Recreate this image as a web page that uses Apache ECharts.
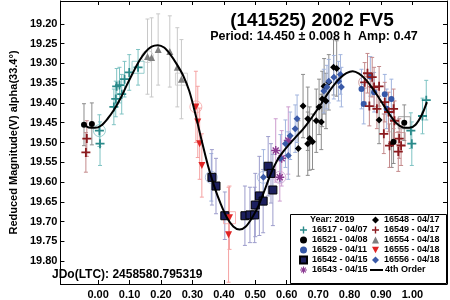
<!DOCTYPE html>
<html>
<head>
<meta charset="utf-8">
<script src="https://cdn.jsdelivr.net/npm/echarts@6/dist/echarts.min.js"></script>
<style>
  html, body { margin: 0; padding: 0; background: #fff; }
  #chart { width: 450px; height: 300px; }
</style>
</head>
<body>
<div id="chart"></div>
<script>
// tick positions
const phaseTicks = [0, 0.1, 0.2, 0.3, 0.4, 0.5, 0.6, 0.7, 0.8, 0.9, 1.0]
const magTicks = [19.20, 19.25, 19.30, 19.35, 19.40, 19.45, 19.50, 19.55, 19.60, 19.65, 19.70, 19.75, 19.80]

// sessions: [phase, reduced mag, error]
const s16517 = [[0.004, 19.470, 0.040], [0.006, 19.503, 0.055], [0.050, 19.410, 0.045], [0.056, 19.390, 0.045],
  [0.059, 19.358, 0.045], [0.068, 19.355, 0.045], [0.075, 19.378, 0.050], [0.084, 19.340, 0.045],
  [0.099, 19.323, 0.045], [0.995, 19.470, 0.045], [0.998, 19.503, 0.055], [1.032, 19.433, 0.045],
  [1.044, 19.393, 0.050], [0.127, 19.310, 0.045]]
const s16521 = [[-0.045, 19.455, 0.053], [-0.020, 19.453, 0.053], [0.940, 19.498, 0.055], [0.974, 19.450, 0.045]]
const s16529 = [[0.360, 19.588, 0.060], [0.838, 19.365, 0.050], [0.845, 19.403, 0.050], [0.866, 19.333, 0.050],
  [0.878, 19.373, 0.050], [0.912, 19.378, 0.050], [0.918, 19.415, 0.050], [0.933, 19.390, 0.050]]
const s16542 = [[0.362, 19.588, 0.070], [0.375, 19.610, 0.070], [0.403, 19.685, 0.060], [0.467, 19.685, 0.075],
  [0.483, 19.683, 0.070], [0.498, 19.683, 0.070], [0.500, 19.658, 0.080], [0.513, 19.635, 0.100],
  [0.525, 19.648, 0.080], [0.541, 19.560, 0.075], [0.550, 19.578, 0.075], [0.556, 19.620, 0.090]]
const s16543 = [[0.578, 19.588, 0.060], [0.565, 19.520, 0.080], [0.584, 19.540, 0.070], [0.605, 19.495, 0.085]]
const s16548 = [[0.637, 19.515, 0.070], [0.652, 19.408, 0.080], [0.667, 19.440, 0.080], [0.667, 19.503, 0.080],
  [0.673, 19.490, 0.080], [0.682, 19.498, 0.070], [0.694, 19.445, 0.080], [0.703, 19.410, 0.070],
  [0.710, 19.448, 0.070], [0.713, 19.390, 0.070], [0.725, 19.395, 0.070], [0.719, 19.358, 0.070],
  [0.734, 19.348, 0.070], [0.749, 19.310, 0.070], [0.759, 19.313, 0.070], [0.894, 19.443, 0.060],
  [0.934, 19.503, 0.060]]
const s16549 = [[0.848, 19.348, 0.050], [-0.036, 19.490, 0.045], [-0.039, 19.525, 0.050], [0.857, 19.325, 0.050],
  [0.872, 19.335, 0.050], [0.878, 19.360, 0.050], [0.894, 19.358, 0.050], [0.863, 19.408, 0.050],
  [0.887, 19.415, 0.050], [0.912, 19.398, 0.050], [0.924, 19.423, 0.050], [0.940, 19.415, 0.050],
  [0.943, 19.445, 0.050], [0.909, 19.478, 0.050], [0.927, 19.508, 0.055], [0.955, 19.523, 0.050],
  [0.964, 19.508, 0.050], [0.958, 19.490, 0.050]]
const s16554 = [[0.157, 19.283, 0.095], [0.170, 19.285, 0.100], [0.191, 19.265, 0.090], [0.228, 19.270, 0.090],
  [0.252, 19.310, 0.100], [0.265, 19.340, 0.100]]
const s16555 = [[0.311, 19.410, 0.090], [0.317, 19.448, 0.090], [0.323, 19.503, 0.090], [0.330, 19.558, 0.080],
  [0.415, 19.733, 0.120], [0.418, 19.690, 0.080]]
const s16556 = [[0.526, 19.588, 0.070], [0.580, 19.540, 0.060], [0.605, 19.533, 0.060], [0.596, 19.503, 0.060],
  [0.611, 19.483, 0.060], [0.627, 19.465, 0.060], [0.633, 19.440, 0.060], [0.718, 19.370, 0.055],
  [0.728, 19.360, 0.055], [0.734, 19.345, 0.055], [0.750, 19.335, 0.055], [0.765, 19.345, 0.050],
  [0.771, 19.328, 0.050], [0.774, 19.360, 0.050]]

// 4th order fit
const fitPhase = [-0.05, -0.03, -0.01, 0.01, 0.03, 0.05, 0.07, 0.09, 0.11, 0.13, 0.15, 0.17, 0.19, 0.21, 0.23,
  0.25, 0.27, 0.29, 0.31, 0.33, 0.35, 0.37, 0.39, 0.41, 0.43, 0.45, 0.47, 0.49, 0.51, 0.53, 0.55, 0.57,
  0.59, 0.61, 0.63, 0.65, 0.67, 0.69, 0.71, 0.73, 0.75, 0.77, 0.79, 0.81, 0.83, 0.85, 0.87, 0.89, 0.91,
  0.93, 0.95, 0.97, 0.99, 1.01, 1.03, 1.046]
const fitMag = [19.452, 19.462, 19.463, 19.457, 19.440, 19.418, 19.390, 19.357, 19.325, 19.295, 19.272, 19.258,
  19.254, 19.260, 19.278, 19.302, 19.330, 19.370, 19.430, 19.497, 19.560, 19.612, 19.655, 19.690, 19.712,
  19.720, 19.712, 19.690, 19.660, 19.620, 19.578, 19.545, 19.522, 19.503, 19.485, 19.468, 19.448, 19.425,
  19.402, 19.377, 19.355, 19.337, 19.325, 19.320, 19.326, 19.340, 19.360, 19.383, 19.408, 19.432, 19.452,
  19.462, 19.463, 19.455, 19.430, 19.398]

// first point circled, last point boxed
const circled = [['16517', 0.004, 19.470], ['16554', 0.157, 19.283], ['16555', 0.311, 19.410], ['16529', 0.360, 19.588],
  ['16556', 0.526, 19.588], ['16543', 0.578, 19.588], ['16549', 0.848, 19.348]]
const boxed = [['16517', 0.127, 19.310], ['16554', 0.265, 19.340], ['16555', 0.418, 19.690], ['16521', 0.974, 19.450],
  ['16549', 0.958, 19.490]]

const FONT = '"Liberation Sans", Arial, sans-serif'
const PLUS = 'path://M-1,-5 H1 V-1 H5 V1 H1 V5 H-1 V1 H-5 V-1 H-1 Z'
const STAR = 'path://M-0.8,-5 H0.8 V5 H-0.8 Z M-5,-0.8 H5 V0.8 H-5 Z M-3.9,-2.8 L-2.8,-3.9 L3.9,2.8 L2.8,3.9 Z M2.8,-3.9 L3.9,-2.8 L-2.8,3.9 L-3.9,2.8 Z'
const DOWN = 'path://M-5,-4 L5,-4 L0,5 Z'

const sessions = [
  { id: '16517', label: '16517 - 04/07', data: s16517, color: '#2a8a8a', bar: '#7fc3c3', symbol: PLUS, size: 9 },
  { id: '16521', label: '16521 - 04/08', data: s16521, color: '#000000', bar: '#8c8c8c', symbol: 'circle', size: 6 },
  { id: '16529', label: '16529 - 04/11', data: s16529, color: '#3558a8', bar: '#9fb3de', symbol: 'circle', size: 6 },
  { id: '16542', label: '16542 - 04/15', data: s16542, color: '#1c1f5e', bar: '#9d9dcc', symbol: 'rect', size: 8, border: '#000' },
  { id: '16543', label: '16543 - 04/15', data: s16543, color: '#8b3a92', bar: '#cc9ccf', symbol: STAR, size: 9 },
  { id: '16548', label: '16548 - 04/17', data: s16548, color: '#000000', bar: '#8c8c8c', symbol: 'diamond', size: 7 },
  { id: '16549', label: '16549 - 04/17', data: s16549, color: '#8b1a1e', bar: '#c48a8c', symbol: PLUS, size: 9 },
  { id: '16554', label: '16554 - 04/18', data: s16554, color: '#7f7f7f', bar: '#c8c8c8', symbol: 'triangle', size: 7 },
  { id: '16555', label: '16555 - 04/18', data: s16555, color: '#e02424', bar: '#f5a3a3', symbol: DOWN, size: 7 },
  { id: '16556', label: '16556 - 04/18', data: s16556, color: '#3a5aa8', bar: '#a3b5de', symbol: 'diamond', size: 7 }
]
const barColor = {}
sessions.forEach(s => { barColor[s.id] = s.bar })

function errorBars (color) {
  return function (params, api) {
    const x = api.value(0)
    const y = api.value(1)
    const e = api.value(2)
    const top = api.coord([x, y - e])
    const bot = api.coord([x, y + e])
    const st = { stroke: color, lineWidth: 1 }
    return {
      type: 'group',
      children: [
        { type: 'line', shape: { x1: top[0], y1: top[1], x2: bot[0], y2: bot[1] }, style: st },
        { type: 'line', shape: { x1: top[0] - 2, y1: top[1], x2: top[0] + 2, y2: top[1] }, style: st },
        { type: 'line', shape: { x1: bot[0] - 2, y1: bot[1], x2: bot[0] + 2, y2: bot[1] }, style: st }
      ]
    }
  }
}

const series = []
sessions.forEach(s => {
  series.push({
    name: s.label + ' err',
    type: 'custom',
    renderItem: errorBars(s.bar),
    data: s.data,
    encode: { x: 0, y: 1 },
    z: 1,
    silent: true
  })
})
sessions.forEach(s => {
  series.push({
    name: s.label,
    type: 'scatter',
    symbol: s.symbol,
    symbolSize: s.size,
    data: s.data.map(d => [d[0], d[1]]),
    itemStyle: { color: s.color, borderColor: s.border || s.color, borderWidth: s.border ? 1 : 0, opacity: 1 },
    z: 3
  })
})
series.push({
  name: 'rings',
  type: 'scatter',
  symbol: 'circle',
  symbolSize: 12,
  data: circled.map(c => ({ value: [c[1], c[2]], itemStyle: { borderColor: barColor[c[0]] } })),
  itemStyle: { color: 'rgba(0,0,0,0)', borderWidth: 1 },
  z: 2
})
series.push({
  name: 'boxes',
  type: 'scatter',
  symbol: 'rect',
  symbolSize: 12,
  data: boxed.map(c => ({ value: [c[1], c[2]], itemStyle: { borderColor: barColor[c[0]] } })),
  itemStyle: { color: 'rgba(0,0,0,0)', borderWidth: 1 },
  z: 2
})
series.push({
  name: '4th Order',
  type: 'line',
  smooth: 0.3,
  symbol: 'none',
  data: fitPhase.map((p, i) => [p, fitMag[i]]),
  lineStyle: { color: '#000', width: 2 },
  itemStyle: { color: '#000' },
  z: 4
})

const xBase = {
  type: 'value', min: -0.12, max: 1.11,
  splitLine: { show: false },
  axisLine: { show: true, onZero: false, lineStyle: { color: '#000', width: 1 } },
  axisTick: { show: true, inside: true, length: 4, customValues: phaseTicks, lineStyle: { color: '#000' } }
}
const yBase = {
  type: 'value', min: 19.1425, max: 19.8575, inverse: true,
  splitLine: { show: false },
  axisLine: { show: true, onZero: false, lineStyle: { color: '#000', width: 1 } },
  axisTick: { show: true, inside: true, length: 4, customValues: magTicks, lineStyle: { color: '#000' } }
}

const legendText = { fontFamily: FONT, fontWeight: 'bold', fontSize: 9, color: '#000', lineHeight: 10 }
const chart = echarts.init(document.getElementById('chart'))
chart.setOption({
  animation: false,
  grid: { left: 47, right: 3, top: 1, bottom: 13 },
  xAxis: [
    Object.assign({}, xBase, {
      position: 'bottom',
      axisLabel: { customValues: phaseTicks, formatter: v => v.toFixed(2), margin: 5, fontFamily: FONT, fontWeight: 'bold', fontSize: 11, color: '#000' }
    }),
    Object.assign({}, xBase, { position: 'top', axisLabel: { show: false } })
  ],
  yAxis: [
    Object.assign({}, yBase, {
      position: 'left',
      name: 'Reduced Magnitude(V) alpha(33.4°)',
      nameLocation: 'middle',
      nameGap: 35,
      nameTextStyle: { fontFamily: FONT, fontWeight: 'bold', fontSize: 11, color: '#000' },
      axisLabel: { customValues: magTicks, formatter: v => v.toFixed(2), margin: 3, fontFamily: FONT, fontWeight: 'bold', fontSize: 11, color: '#000' }
    }),
    Object.assign({}, yBase, { position: 'right', axisLabel: { show: false } })
  ],
  legend: [
    {
      left: 299, top: 225, orient: 'vertical', padding: 0, itemGap: 0, itemWidth: 7, itemHeight: 7, z: 20,
      textStyle: legendText, selectedMode: false,
      data: sessions.slice(0, 5).map(s => ({ name: s.label, icon: s.symbol }))
    },
    {
      left: 372, top: 215, orient: 'vertical', padding: 0, itemGap: 0, itemWidth: 7, itemHeight: 7, z: 20,
      textStyle: legendText, selectedMode: false,
      data: sessions.slice(5).map(s => ({ name: s.label, icon: s.symbol }))
    }
  ],
  graphic: [
    { type: 'rect', left: 290, top: 214, z: 10, shape: { width: 156, height: 69 }, style: { fill: '#fff', stroke: '#000', lineWidth: 1 } },
    { type: 'text', left: 310, top: 215, z: 21, style: { text: 'Year: 2019', font: 'bold 9px ' + FONT, fill: '#000' } },
    { type: 'line', z: 21, shape: { x1: 370, y1: 270, x2: 383, y2: 270 }, style: { stroke: '#000', lineWidth: 2 } },
    { type: 'text', left: 385, top: 265, z: 21, style: { text: '4th Order', font: 'bold 9px ' + FONT, fill: '#000' } },
    { type: 'text', x: 312, y: 21, z: 21, style: { text: '(141525) 2002 FV5', font: 'bold 19px ' + FONT, fill: '#000', align: 'center', verticalAlign: 'middle' } },
    { type: 'text', x: 314, y: 37, z: 21, style: { text: 'Period: 14.450 ± 0.008 h  Amp: 0.47', font: 'bold 12.5px ' + FONT, fill: '#000', align: 'center', verticalAlign: 'middle' } },
    { type: 'text', x: 52, y: 275, z: 21, style: { text: 'JDo(LTC): 2458580.795319', font: 'bold 12px ' + FONT, fill: '#000', verticalAlign: 'middle' } }
  ],
  series: series
})
</script>
</body>
</html>
